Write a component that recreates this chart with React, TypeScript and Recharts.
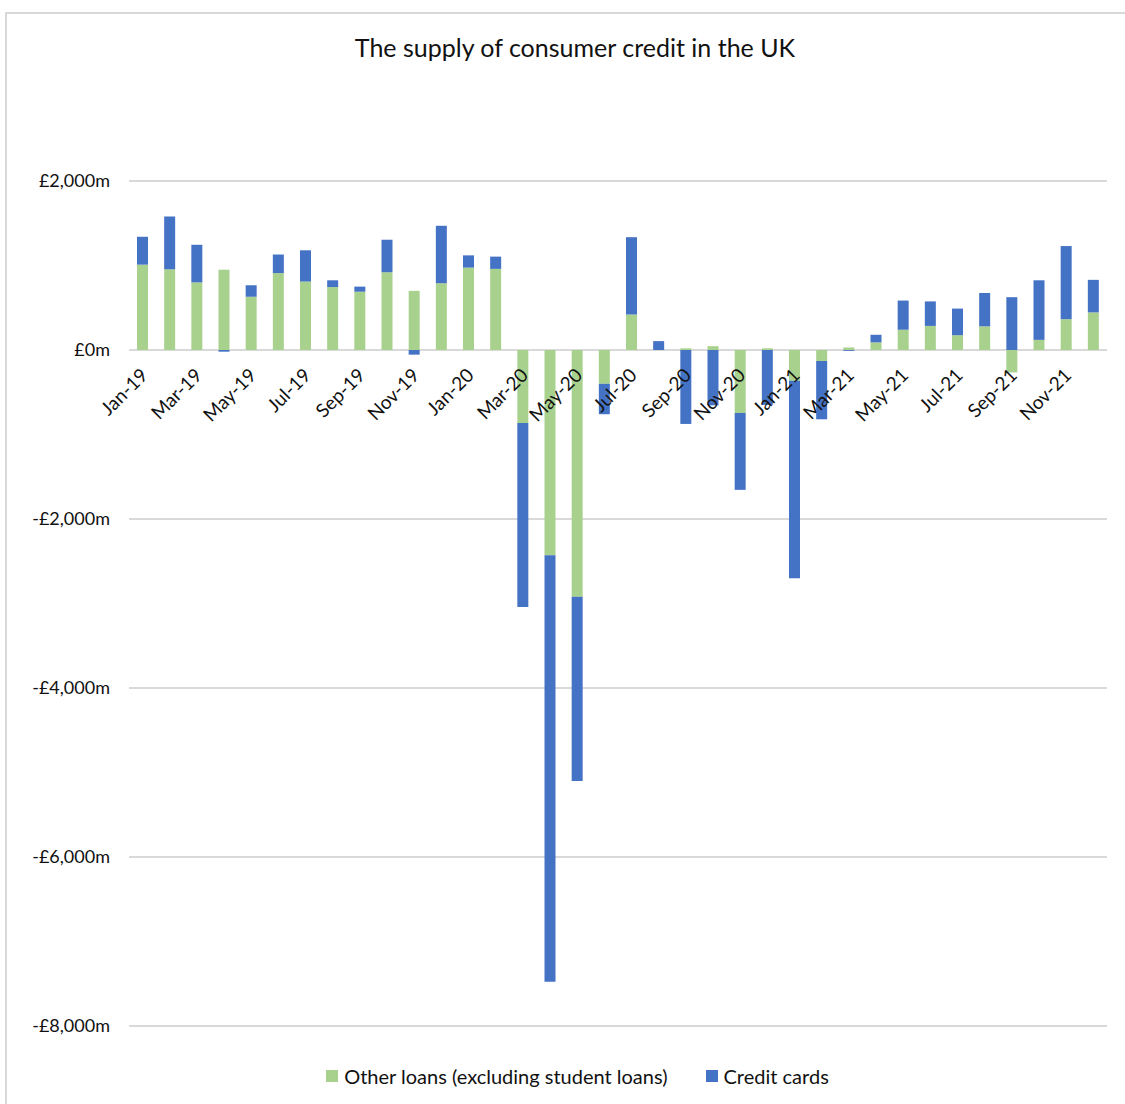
import React from "react";
import { BarChart, Bar, XAxis, YAxis, CartesianGrid, Legend } from "recharts";

const months = [
  "Jan-19", "Feb-19", "Mar-19", "Apr-19", "May-19", "Jun-19", "Jul-19", "Aug-19", "Sep-19", "Oct-19", "Nov-19", "Dec-19",
  "Jan-20", "Feb-20", "Mar-20", "Apr-20", "May-20", "Jun-20", "Jul-20", "Aug-20", "Sep-20", "Oct-20", "Nov-20", "Dec-20",
  "Jan-21", "Feb-21", "Mar-21", "Apr-21", "May-21", "Jun-21", "Jul-21", "Aug-21", "Sep-21", "Oct-21", "Nov-21", "Dec-21",
];

const otherLoans = [
  1010, 955, 800, 950, 630, 910, 810, 745, 690, 920, 700, 790,
  975, 960, -865, -2430, -2920, -400, 420, 0, 20, 45, -745, 20,
  -365, -130, 30, 90, 240, 285, 175, 280, -265, 120, 365, 445,
];

const creditCards = [
  330, 625, 445, -20, 135, 220, 370, 80, 60, 385, -55, 680,
  145, 145, -2175, -5045, -2180, -360, 915, 105, -875, -655, -910, -650,
  -2335, -690, -10, 90, 345, 290, 315, 395, 625, 705, 865, 385,
];

const yTicks = [-8000, -6000, -4000, -2000, 0, 2000];

const seriesNames = ["Other loans (excluding student loans)", "Credit cards"];

const Y_MIN = -8000;
const Y_MAX = 2000;

const data = months.map((m, i) => ({
  month: m,
  other: otherLoans[i],
  cards: creditCards[i],
}));

const W = 1125;
const H = 1104;
const M_TOP = 181;
const M_BOTTOM = 13;
const LEGEND_H = 30;
const XAXIS_H = 35;
const PLOT_H = H - M_TOP - M_BOTTOM - LEGEND_H - XAXIS_H;
const ZERO_Y = M_TOP + (PLOT_H * Y_MAX) / (Y_MAX - Y_MIN);

const FONT = "Lato, 'Open Sans', sans-serif";
const GREEN = "#A9D18E";
const BLUE = "#4472C4";

const fmtY = (v: number) => {
  const abs = Math.abs(v).toLocaleString("en-GB");
  return (v < 0 ? "-" : "") + "£" + abs + "m";
};

const XTick = (props: any) => {
  const { x, payload } = props;
  const ax = x - 3;
  const ay = ZERO_Y + 17;
  return (
    <text
      x={ax}
      y={ay}
      dy="0.7em"
      textAnchor="end"
      transform={`rotate(-45, ${ax}, ${ay})`}
      fontSize={19}
      fontFamily={FONT}
      fill="#111"
    >
      {payload.value}
    </text>
  );
};

const LegendContent = (props: any) => {
  const { payload } = props;
  const items = [...(payload || [])].sort(
    (a: any, b: any) => seriesNames.indexOf(a.value) - seriesNames.indexOf(b.value)
  );
  return (
    <div
      style={{
        display: "flex",
        justifyContent: "center",
        alignItems: "center",
        height: LEGEND_H,
        fontFamily: FONT,
        fontSize: 20,
        color: "#111",
        paddingLeft: 48,
      }}
    >
      {items.map((p: any, i: number) => (
        <div key={i} style={{ display: "flex", alignItems: "center", marginRight: i === 0 ? 38 : 0 }}>
          <span style={{ display: "inline-block", width: 12, height: 12, background: p.color, marginRight: 6 }} />
          <span>{p.value}</span>
        </div>
      ))}
    </div>
  );
};

export default function App() {
  return (
    <div style={{ position: "absolute", left: 0, top: 0, width: W, height: H, overflow: "hidden", background: "#fff" }}>
      <div
        style={{
          position: "absolute",
          left: 5,
          top: 12,
          width: 1200,
          height: 1200,
          border: "2px solid #d9d9d9",
          boxSizing: "border-box",
        }}
      />
      <div
        style={{
          position: "absolute",
          left: 0,
          top: 32,
          width: 1150,
          textAlign: "center",
          fontFamily: FONT,
          fontSize: 25,
          color: "#111",
        }}
      >
        The supply of consumer credit in the UK
      </div>
      <div style={{ position: "absolute", left: 0, top: 0 }}>
        <BarChart
          width={W}
          height={H}
          data={data}
          stackOffset="sign"
          margin={{ top: M_TOP, right: 18, left: 0, bottom: M_BOTTOM }}
        >
          <CartesianGrid vertical={false} stroke="#d9d9d9" strokeWidth={2} />
          <XAxis
            dataKey="month"
            height={XAXIS_H}
            axisLine={false}
            tickLine={false}
            interval={1}
            tick={<XTick />}
          />
          <YAxis
            width={129}
            domain={[Y_MIN, Y_MAX]}
            ticks={yTicks}
            allowDataOverflow
            axisLine={false}
            tickLine={false}
            tickSize={0}
            tickMargin={19}
            tickFormatter={fmtY}
            tick={{ fontSize: 18, fontFamily: FONT, fill: "#111" }}
          />
          <Legend verticalAlign="bottom" height={LEGEND_H} content={<LegendContent />} />
          <Bar dataKey="other" name={seriesNames[0]} stackId="a" fill={GREEN} barSize={11} isAnimationActive={false} />
          <Bar dataKey="cards" name={seriesNames[1]} stackId="a" fill={BLUE} barSize={11} isAnimationActive={false} />
        </BarChart>
      </div>
    </div>
  );
}
